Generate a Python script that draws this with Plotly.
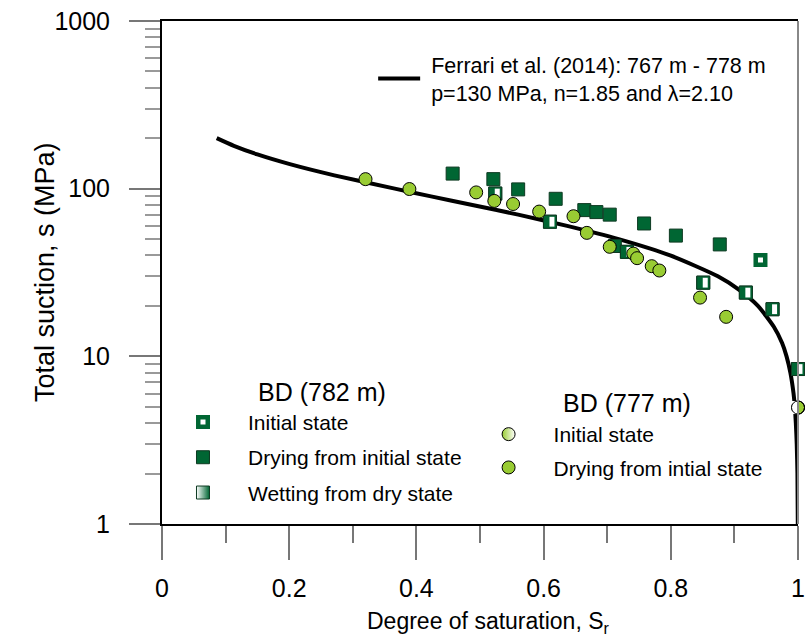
import plotly.graph_objects as go

# ---------------- data ----------------
# Ferrari et al. (2014) retention curve
curve_sr = [0.086, 0.113, 0.150, 0.201, 0.271, 0.366, 0.423, 0.488, 0.560, 0.637,
            0.718, 0.799, 0.874, 0.907, 0.937, 0.962, 0.975, 0.982, 0.988, 0.993,
            0.995, 0.9966, 0.998, 0.9991, 0.9997]
curve_s = [200, 180, 160, 140, 120, 100, 90, 80, 70, 60,
           50, 40, 30, 25, 20, 15, 12, 10, 8, 6,
           5, 4, 3, 2, 1]

# BD (782 m)
bd782_init_sr = [0.941]
bd782_init_s = [37.5]
bd782_dry_sr = [0.457, 0.521, 0.560, 0.619, 0.664, 0.683, 0.704, 0.712, 0.758, 0.808, 0.877]
bd782_dry_s = [123, 114, 99, 87, 74.5, 72.5, 70, 45.5, 62, 52.5, 46.5]
bd782_wet_sr = [0.524, 0.610, 0.731, 0.851, 0.918, 0.960, 1.0]
bd782_wet_s = [93.5, 63.5, 42, 27.5, 24, 19.1, 8.4]

# BD (777 m)
bd777_init_sr = [1.0]
bd777_init_s = [4.95]
bd777_dry_sr = [0.320, 0.389, 0.494, 0.5225, 0.552, 0.593, 0.647, 0.668, 0.704,
                0.741, 0.747, 0.770, 0.782, 0.846, 0.887]
bd777_dry_s = [114, 99.5, 95, 84.5, 81, 73, 68.5, 54.5, 45,
               41, 38.5, 34.5, 32.5, 22.4, 17.2]

x_tickvals = [0, 0.2, 0.4, 0.6, 0.8, 1]
x_ticktext = ["0", "0.2", "0.4", "0.6", "0.8", "1"]
x_minorvals = [0.1, 0.3, 0.5, 0.7, 0.9]
y_tickvals = [1, 10, 100, 1000]
y_ticktext = ["1", "10", "100", "1000"]

# ---------------- styling ----------------
DG = "#006633"
DG_EDGE = "#0e3a22"
LG = "#99cc33"
FONT = "Liberation Sans, Arial, sans-serif"

fig = go.Figure()

# model curve
fig.add_trace(go.Scatter(
    x=curve_sr, y=curve_s, mode="lines",
    line=dict(color="black", width=4, shape="spline", smoothing=0.6),
    name=" Ferrari et al. (2014): 767 m - 778 m<br> p=130 MPa, n=1.85 and \u03bb=2.10",
    legend="legend", showlegend=True))

# BD 782 : initial state
fig.add_trace(go.Scatter(
    x=bd782_init_sr, y=bd782_init_s, mode="markers", name="Initial state", legend="legend2",
    legendgroup="a1", cliponaxis=False,
    marker=dict(symbol="square", size=9.5, color="white", line=dict(color=DG, width=4.5))))
# BD 782 : drying
fig.add_trace(go.Scatter(
    x=bd782_dry_sr, y=bd782_dry_s, mode="markers", name="Drying from initial state", legend="legend2",
    legendgroup="a2", cliponaxis=False,
    marker=dict(symbol="square", size=13, color=DG, line=dict(color=DG_EDGE, width=1))))
# BD 782 : wetting (legend symbol: gradient square; data symbol built from overlays)
fig.add_trace(go.Scatter(
    x=bd782_wet_sr, y=bd782_wet_s, mode="markers", name="Wetting from dry state", legend="legend2",
    legendgroup="a3", cliponaxis=False,
    marker=dict(symbol="square", size=13, color="white", gradient=dict(type="horizontal", color=DG),
                line=dict(color=DG_EDGE, width=1))))
fig.add_trace(go.Scatter(
    x=bd782_wet_sr, y=bd782_wet_s, mode="markers", showlegend=False, cliponaxis=False, hoverinfo="skip",
    marker=dict(symbol="square", size=13, color=DG, line=dict(color=DG_EDGE, width=1))))
fig.add_trace(go.Scatter(
    x=bd782_wet_sr, y=bd782_wet_s, mode="markers", showlegend=False, cliponaxis=False, hoverinfo="skip",
    marker=dict(symbol="line-ew", size=7, angle=-90, standoff=2, color="white",
                line=dict(color="white", width=5))))

# BD 777 : initial state (half filled circle)
fig.add_trace(go.Scatter(
    x=bd777_init_sr, y=bd777_init_s, mode="markers", name="Initial state", legend="legend3",
    legendgroup="b1", cliponaxis=False,
    marker=dict(symbol="circle", size=13, color=LG, gradient=dict(type="horizontal", color="white"),
                line=dict(color="black", width=1))))
fig.add_trace(go.Scatter(
    x=bd777_init_sr, y=bd777_init_s, mode="markers", showlegend=False, cliponaxis=False, hoverinfo="skip",
    marker=dict(symbol="circle", size=13, color=LG, line=dict(color="black", width=1))))
fig.add_trace(go.Scatter(
    x=bd777_init_sr, y=bd777_init_s, mode="markers", showlegend=False, cliponaxis=False, hoverinfo="skip",
    marker=dict(symbol="line-ew", size=9.3, angle=90, standoff=3.3, color="white",
                line=dict(color="white", width=6.6))))
fig.add_trace(go.Scatter(
    x=bd777_init_sr, y=bd777_init_s, mode="markers", showlegend=False, cliponaxis=False, hoverinfo="skip",
    marker=dict(symbol="circle-open", size=13, color="black", line=dict(color="black", width=1))))
# BD 777 : drying
fig.add_trace(go.Scatter(
    x=bd777_dry_sr, y=bd777_dry_s, mode="markers", name="Drying from intial state", legend="legend3",
    legendgroup="b2", cliponaxis=False,
    marker=dict(symbol="circle", size=13, color=LG, line=dict(color="black", width=1))))

fig.update_layout(
    width=809, height=640,
    margin=dict(l=162, r=11, t=21, b=116, autoexpand=False),
    plot_bgcolor="white", paper_bgcolor="white",
    font=dict(family=FONT, color="black"),
    xaxis=dict(
        range=[0, 1], tickvals=x_tickvals, ticktext=x_ticktext, automargin=False,
        ticks="outside", ticklen=34, tickwidth=1.5, tickcolor="#777777",
        minor=dict(tickvals=x_minorvals, ticks="outside", ticklen=17, tickwidth=1.5, tickcolor="#777777"),
        showline=True, linecolor="black", linewidth=2, mirror=True,
        showgrid=False, zeroline=False,
        tickfont=dict(family=FONT, size=25), ticklabelstandoff=7,
    ),
    yaxis=dict(
        type="log", range=[0, 3], tickvals=y_tickvals, ticktext=y_ticktext, automargin=False,
        ticks="outside", ticklen=31, tickwidth=1.5, tickcolor="#777777",
        minor=dict(dtick="D1", ticks="outside", ticklen=15, tickwidth=1.5, tickcolor="#999999"),
        showline=True, linecolor="black", linewidth=2,
        showgrid=False, zeroline=False,
        tickfont=dict(family=FONT, size=25), ticklabelstandoff=14,
    ),
    legend=dict(x=0.332, y=0.954, xanchor="left", yanchor="top", bgcolor="rgba(0,0,0,0)",
                font=dict(family=FONT, size=21.5), itemwidth=42),
    legend2=dict(x=-0.0063, y=0.243, xanchor="left", yanchor="top", bgcolor="rgba(0,0,0,0)",
                 font=dict(family=FONT, size=21), itemwidth=80, tracegroupgap=5),
    legend3=dict(x=0.4742, y=0.2187, xanchor="left", yanchor="top", bgcolor="rgba(0,0,0,0)",
                 font=dict(family=FONT, size=21), itemwidth=80, tracegroupgap=3),
    shapes=[dict(type="line", xref="paper", yref="paper", x0=1, x1=1, y0=0, y1=1,
                 line=dict(color="#888888", width=2))],
    annotations=[
        dict(text="Total suction, s (MPa)", xref="paper", yref="paper", x=-0.184, y=0.501,
             textangle=-90, showarrow=False, xanchor="center", yanchor="middle",
             font=dict(family=FONT, size=27)),
        dict(text="Degree of saturation, S<sub>r</sub>", xref="paper", yref="paper", x=0.5126, y=-0.196,
             showarrow=False, xanchor="center", yanchor="middle", font=dict(family=FONT, size=23)),
        dict(text="BD (782 m)", xref="paper", yref="paper", x=0.2516, y=0.2624, showarrow=False,
             xanchor="center", yanchor="middle", font=dict(family=FONT, size=25)),
        dict(text="BD (777 m)", xref="paper", yref="paper", x=0.731, y=0.2406, showarrow=False,
             xanchor="center", yanchor="middle", font=dict(family=FONT, size=25)),
    ],
)

fig.write_html("out.html")
